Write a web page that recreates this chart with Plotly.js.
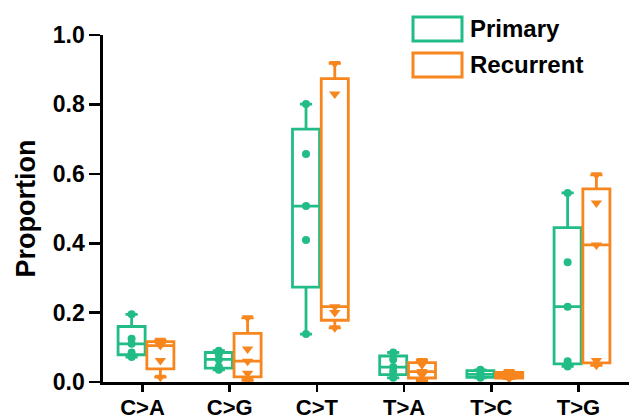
<!DOCTYPE html>
<html>
<head>
<meta charset="utf-8">
<script src="https://cdn.plot.ly/plotly-3.0.1.min.js"></script>
<style>html,body{margin:0;padding:0;background:#fff;}#chart{width:629px;height:419px;}</style>
</head>
<body>
<div id="chart"></div>
<script>
// Data (five samples per group)
const categories = ['C>A', 'C>G', 'C>T', 'T>A', 'T>C', 'T>G'];
const seriesNames = ['Primary', 'Recurrent'];
const primaryValues = [
  [0.072, 0.085, 0.110, 0.125, 0.195],   // C>A
  [0.035, 0.045, 0.065, 0.080, 0.090],   // C>G
  [0.138, 0.409, 0.507, 0.657, 0.801],   // C>T
  [0.012, 0.030, 0.043, 0.065, 0.085],   // T>A
  [0.012, 0.015, 0.022, 0.030, 0.035],   // T>C
  [0.045, 0.060, 0.217, 0.345, 0.545]    // T>G
];
const recurrentValues = [
  [0.014, 0.062, 0.105, 0.113, 0.120],   // C>A
  [0.005, 0.025, 0.060, 0.095, 0.185],   // C>G
  [0.156, 0.200, 0.217, 0.830, 0.918],   // C>T
  [0.003, 0.020, 0.030, 0.050, 0.062],   // T>A
  [0.010, 0.013, 0.020, 0.025, 0.030],   // T>C
  [0.048, 0.062, 0.395, 0.516, 0.597]    // T>G
];
const yTickVals = [0, 0.2, 0.4, 0.6, 0.8, 1.0];

const GREEN = '#22bd86';
const ORANGE = '#f7861e';
const FONT = 'Liberation Sans, Arial, Helvetica, sans-serif';

function buildTrace(name, groups, color, symbol) {
  const x = [], y = [];
  groups.forEach((vals, i) => vals.forEach(v => { x.push(i); y.push(v); }));
  return {
    type: 'box', name: name, x: x, y: y,
    boxpoints: 'all', jitter: 0, pointpos: 0,
    quartilemethod: 'exclusive',
    fillcolor: 'rgba(255,255,255,0)',
    line: {color: color, width: 2.8},
    whiskerwidth: 0.45,
    marker: {color: color, symbol: symbol, size: symbol === 'circle' ? 8 : 10},
    showlegend: false, hoverinfo: 'y'
  };
}

const traces = [
  buildTrace(seriesNames[0], primaryValues, GREEN, 'circle'),
  buildTrace(seriesNames[1], recurrentValues, ORANGE, 'triangle-down')
];

// pixel -> paper helpers for the hand-drawn legend
const L = 103, W = 526, T = 35, H = 347;
const px = v => (v - L) / W;
const py = v => (T + H - v) / H;

const layout = {
  width: 629, height: 419,
  margin: {l: L, r: 0, t: T, b: 419 - T - H},
  paper_bgcolor: '#fff', plot_bgcolor: '#fff',
  boxmode: 'group', boxgap: 0.34, boxgroupgap: 0.06,
  xaxis: {
    type: 'linear', range: [-0.493, 5.539],
    tickvals: categories.map((c, i) => i - 0.04), ticktext: categories,
    showgrid: false, zeroline: false,
    showline: true, linecolor: '#000', linewidth: 2.6,
    ticks: 'outside', ticklen: 7, tickwidth: 2.6, tickcolor: '#000',
    ticklabelstandoff: -3,
    tickfont: {family: FONT, size: 22, color: '#000', weight: 'bold'}
  },
  yaxis: {
    range: [0, 1.0], tickvals: yTickVals, tickformat: '.1f',
    showgrid: false, zeroline: false,
    showline: true, linecolor: '#000', linewidth: 2.6,
    ticks: 'outside', ticklen: 11, tickwidth: 2.6, tickcolor: '#000',
    tickfont: {family: FONT, size: 23, color: '#000', weight: 'bold'},
    title: {text: 'Proportion', font: {family: FONT, size: 27, color: '#000', weight: 'bold'}, standoff: 10}
  },
  shapes: [
    {type: 'rect', xref: 'paper', yref: 'paper', x0: px(413), x1: px(462), y0: py(41), y1: py(17),
     line: {color: GREEN, width: 3}, fillcolor: '#fff'},
    {type: 'rect', xref: 'paper', yref: 'paper', x0: px(413), x1: px(462), y0: py(77), y1: py(53),
     line: {color: ORANGE, width: 3}, fillcolor: '#fff'}
  ],
  annotations: [
    {xref: 'paper', yref: 'paper', x: px(468), y: py(29), xanchor: 'left', yanchor: 'middle',
     text: seriesNames[0], showarrow: false, font: {family: FONT, size: 24, color: '#000', weight: 'bold'}},
    {xref: 'paper', yref: 'paper', x: px(468), y: py(65), xanchor: 'left', yanchor: 'middle',
     text: seriesNames[1], showarrow: false, font: {family: FONT, size: 24, color: '#000', weight: 'bold'}}
  ]
};

Plotly.newPlot('chart', traces, layout, {displayModeBar: false, staticPlot: true});
</script>
</body>
</html>
